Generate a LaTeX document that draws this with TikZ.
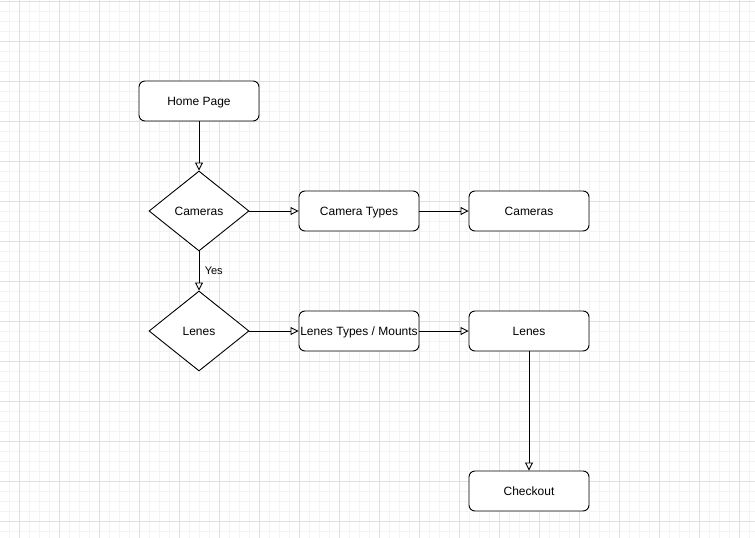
\documentclass[tikz,border=0pt]{standalone}
\usepackage{fontspec}
\setmainfont{Liberation Sans}
\usetikzlibrary{arrows.meta,shapes.geometric}
\definecolor{gridmajor}{HTML}{E0E0E0}
\definecolor{gridminor}{HTML}{F3F3F3}

\begin{document}
\begin{tikzpicture}[x=1pt, y=-1pt,
  every node/.style = {font=\fontsize{12}{14}\selectfont},
  pagebox/.style = {draw, line width=0.9pt, rounded corners=6pt, fill=white,
                    minimum width=120pt, minimum height=40pt, inner sep=0pt,
                    text height=9pt, text depth=1pt},
  choice/.style = {draw, line width=0.9pt, diamond, aspect=1.25, fill=white,
                   minimum width=100pt, minimum height=80pt, inner sep=0pt,
                   text height=9pt, text depth=1pt},
  link/.style = {draw, line width=0.9pt,
                 -{Triangle[open, length=8pt, width=8pt]}}]
\useasboundingbox (0,0) rectangle (755,538);
\fill[white] (0,0) rectangle (755,538);
% grid
\foreach \gx in {9,19,...,749} \draw[gridminor, line width=0.7pt] (\gx,0) -- (\gx,538);
\foreach \gy in {1,11,...,531} \draw[gridminor, line width=0.7pt] (0,\gy) -- (755,\gy);
\foreach \gx in {19,59,...,739} \draw[gridmajor, line width=0.7pt] (\gx,0) -- (\gx,538);
\foreach \gy in {1,41,...,521} \draw[gridmajor, line width=0.7pt] (0,\gy) -- (755,\gy);

\node[pagebox] (home) at (199,101) {Home Page};
\node[choice] (camq) at (199,211) {Cameras};
\node[pagebox] (camtypes) at (359,211) {Camera Types};
\node[pagebox] (cams) at (529,211) {Cameras};
\node[choice] (lensq) at (199,331) {Lenes};
\node[pagebox] (lenstypes) at (359,331) {Lenes Types / Mounts};
\node[pagebox] (lenses) at (529,331) {Lenes};
\node[pagebox] (checkout) at (529,491) {Checkout};

\draw[link] (home) -- (camq);
\draw[link] (camq) -- (camtypes);
\draw[link] (camtypes) -- (cams);
\draw[link] (camq) -- node[right, xshift=2pt, font=\fontsize{11}{13}\selectfont] {Yes} (lensq);
\draw[link] (lensq) -- (lenstypes);
\draw[link] (lenstypes) -- (lenses);
\draw[link] (lenses) -- (checkout);
\end{tikzpicture}
\end{document}
